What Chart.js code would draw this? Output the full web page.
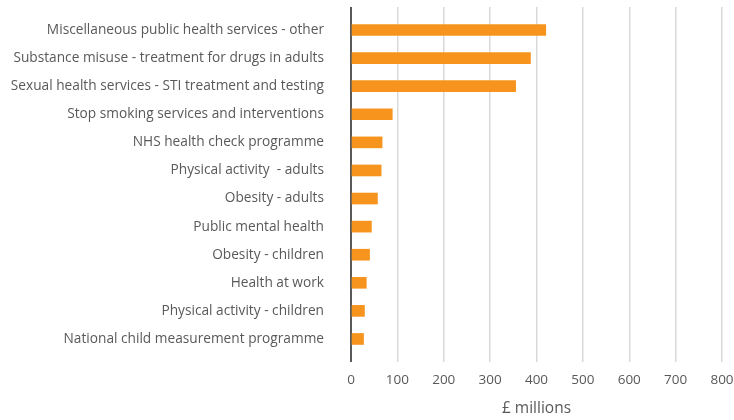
<!DOCTYPE html>
<html>
<head>
<meta charset="utf-8">
<script src="https://cdn.jsdelivr.net/npm/chart.js@4"></script>
<style>
html,body{margin:0;padding:0;background:#fff;}
#wrap{width:734px;height:420px;position:relative;}
</style>
</head>
<body>
<div id="wrap"><canvas id="c"></canvas></div>
<script>
const categories = [
  "Miscellaneous public health services - other",
  "Substance misuse - treatment for drugs in adults",
  "Sexual health services - STI treatment and testing",
  "Stop smoking services and interventions",
  "NHS health check programme",
  "Physical activity  - adults",
  "Obesity - adults",
  "Public mental health",
  "Obesity - children",
  "Health at work",
  "Physical activity - children",
  "National child measurement programme"
];
const spending = [420, 387, 355, 89, 67, 65, 57, 44, 40, 33, 29, 27];
const xTicks = [0, 100, 200, 300, 400, 500, 600, 700, 800];
const xTitle = "£ millions";

const FONT = "'Open Sans', 'Noto Sans', sans-serif";
const GREY = "#595959";

new Chart(document.getElementById('c'), {
  type: 'bar',
  data: {
    datasets: [{
      data: spending.map((v, i) => ({ x: v, y: i })),
      backgroundColor: '#F7941D',
      borderWidth: 0,
      barThickness: 11
    }]
  },
  options: {
    indexAxis: 'y',
    responsive: true,
    maintainAspectRatio: false,
    animation: false,
    layout: { padding: { top: 7, right: 12, left: 0, bottom: 2 } },
    plugins: { legend: { display: false }, tooltip: { enabled: false } },
    scales: {
      x: {
        type: 'linear',
        min: xTicks[0],
        max: xTicks[xTicks.length - 1],
        afterBuildTicks: s => { s.ticks = xTicks.map(v => ({ value: v })); },
        afterFit: s => { s.paddingLeft = 0; s.paddingRight = 0; s.height = 56; },
        grid: {
          color: ctx => ctx.tick && ctx.tick.value === 0 ? GREY : '#D9D9D9',
          lineWidth: ctx => ctx.tick && ctx.tick.value === 0 ? 2 : 1.5,
          drawTicks: false
        },
        border: { display: false },
        ticks: { color: GREY, font: { family: FONT, size: 13.5 }, padding: 10 },
        title: { display: true, text: xTitle, color: GREY, font: { family: FONT, size: 15.5 }, padding: { top: 8, bottom: 0 } }
      },
      y: {
        type: 'linear',
        reverse: true,
        offset: false,
        bounds: 'data',
        min: -0.82,
        max: 11.82,
        afterBuildTicks: s => { s.ticks = categories.map((c, i) => ({ value: i })); },
        afterFit: s => { s.width = 351; s.paddingTop = 0; s.paddingBottom = 0; },
        grid: { display: false, drawTicks: false },
        border: { display: false },
        ticks: {
          color: GREY,
          font: { family: FONT, size: 13.7 },
          padding: 27,
          autoSkip: false,
          callback: (v) => categories[v]
        }
      }
    }
  }
});
</script>
</body>
</html>
